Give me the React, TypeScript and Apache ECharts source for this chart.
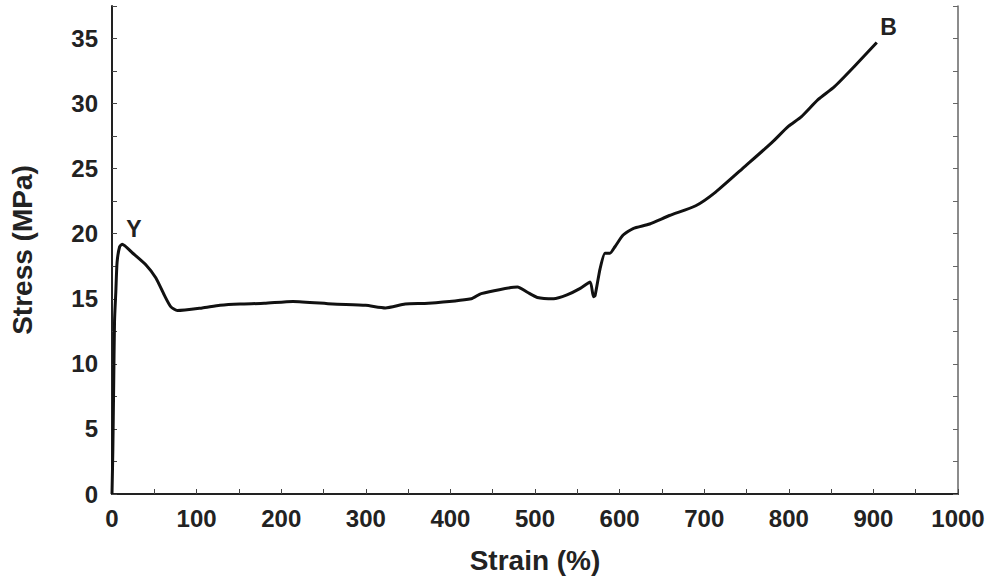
import React, { useEffect, useRef } from "react";
import * as echarts from "echarts";

const strain = [0, 1, 2, 3, 4.5, 6, 9, 12, 24.6, 40.2, 51.9, 61.7, 69.4, 77.3, 106.6, 127.6, 151.4, 180, 213.9, 260.8, 299.8, 323.2, 346.6, 373.9, 424.7, 436.4, 479.3, 491, 502.7, 522, 537.8, 553.5, 565.2, 569.1, 571, 576.9, 582.8, 588.6, 594.5, 604.2, 615.9, 635.5, 658.9, 690, 713.5, 748.6, 779.9, 799.4, 815, 834.5, 854, 877.4, 904];
const stress = [0, 3.4, 8.4, 13.3, 15.5, 17.8, 19.0, 19.2, 18.5, 17.6, 16.6, 15.3, 14.4, 14.1, 14.3, 14.5, 14.6, 14.65, 14.8, 14.6, 14.5, 14.3, 14.6, 14.65, 15.0, 15.4, 15.9, 15.5, 15.1, 15.0, 15.3, 15.8, 16.3, 15.15, 15.25, 17.3, 18.5, 18.5, 19.0, 19.9, 20.4, 20.75, 21.4, 22.15, 23.2, 25.2, 27.0, 28.25, 29.0, 30.3, 31.3, 32.85, 34.7];

const xTickLabels = ["0", "100", "200", "300", "400", "500", "600", "700", "800", "900", "1000"];
const yTickLabels = ["0", "5", "10", "15", "20", "25", "30", "35"];

const annotations = [
  { name: "Y", x: 26, y: 20.4 },
  { name: "B", x: 918, y: 35.9 },
];

const FONT = "'Liberation Sans', Arial, Helvetica, sans-serif";

export default function App() {
  const ref = useRef<HTMLDivElement>(null);
  useEffect(() => {
    if (!ref.current) return;
    const chart = echarts.init(ref.current, null, { renderer: "svg" });
    const points = strain.map((s, i) => [s, stress[i]]);
    chart.setOption({
      animation: false,
      backgroundColor: "#fff",
      grid: { left: 104, right: 31, top: 6, bottom: 82, containLabel: false },
      xAxis: {
        type: "value",
        min: 0,
        max: 1000,
        interval: 50,
        name: "Strain (%)",
        nameLocation: "middle",
        nameGap: 52,
        nameTextStyle: { fontFamily: FONT, fontSize: 28, fontWeight: "bold", color: "#222" },
        axisLine: { show: true, lineStyle: { color: "#222", width: 2 } },
        axisTick: { show: true, inside: true, length: 5, lineStyle: { color: "#444", width: 1 } },
        axisLabel: {
          margin: 12,
          fontFamily: FONT,
          fontSize: 24,
          fontWeight: "bold",
          color: "#222",
          formatter: (v: number) => (xTickLabels.includes(String(v)) ? String(v) : ""),
        },
        splitLine: { show: false },
      },
      yAxis: [
        {
          type: "value",
          min: 0,
          max: 37.5,
          interval: 2.5,
          name: "Stress (MPa)",
          nameLocation: "middle",
          nameGap: 76,
          nameTextStyle: { fontFamily: FONT, fontSize: 28, fontWeight: "bold", color: "#222" },
          axisLine: { show: true, lineStyle: { color: "#222", width: 2 } },
          axisTick: { show: true, inside: true, length: 5, lineStyle: { color: "#444", width: 1 } },
          axisLabel: {
            margin: 14,
            fontFamily: FONT,
            fontSize: 24,
            fontWeight: "bold",
            color: "#222",
            formatter: (v: number) => (yTickLabels.includes(String(v)) ? String(v) : ""),
          },
          splitLine: { show: false },
        },
        {
          type: "value",
          position: "right",
          min: 0,
          max: 37.5,
          interval: 2.5,
          axisLine: { show: true, lineStyle: { color: "#666", width: 1.5 } },
          axisTick: { show: true, inside: true, length: 5, lineStyle: { color: "#666", width: 1 } },
          axisLabel: { show: false },
          splitLine: { show: false },
        },
      ],
      series: [
        {
          type: "line",
          data: points,
          yAxisIndex: 0,
          showSymbol: false,
          symbol: "none",
          smooth: 0.2,
          lineStyle: { color: "#111", width: 3 },
          markPoint: {
            symbol: "circle",
            symbolSize: 0,
            label: {
              show: true,
              formatter: (p: any) => p.name,
              fontFamily: FONT,
              fontSize: 23,
              fontWeight: "bold",
              color: "#222",
            },
            data: annotations.map((a) => ({ name: a.name, coord: [a.x, a.y] })),
          },
        },
      ],
    });
    return () => chart.dispose();
  }, []);
  return (
    <div
      ref={ref}
      style={{ position: "absolute", left: 0, top: 0, width: 989, height: 579 }}
    />
  );
}
